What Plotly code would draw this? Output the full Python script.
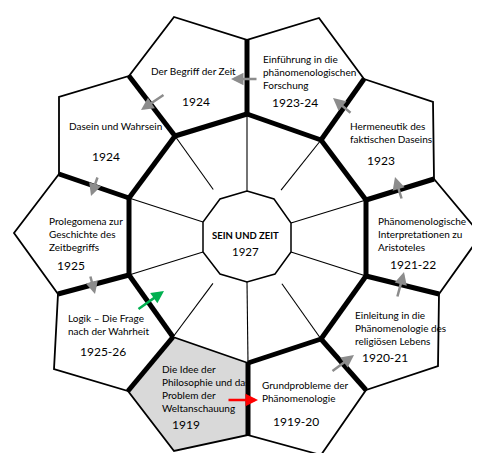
import plotly.graph_objects as go

# ---- content ----
titles = [
    "Einführung in die<br>phänomenologischen<br>Forschung",
    "Hermeneutik des<br>faktischen Daseins",
    "Phänomenologische<br>Interpretationen zu<br>Aristoteles",
    "Einleitung in die<br>Phänomenologie des<br>religiösen Lebens",
    "Grundprobleme der<br>Phänomenologie",
    "Die Idee der<br>Philosophie und das<br>Problem der<br>Weltanschauung",
    "Logik – Die Frage<br>nach der Wahrheit",
    "Prolegomena zur<br>Geschichte des<br>Zeitbegriffs",
    "Dasein und Wahrsein",
    "Der Begriff der Zeit",
]
years = ["1923-24", "1923", "1921-22", "1920-21", "1919-20",
         "1919", "1925-26", "1925", "1924", "1924"]
center_title = "SEIN UND ZEIT"
center_year = "1927"

# ---- geometry (pixel space of the diagram) ----
ring = [(239, 106), (313, 132), (358, 192), (358, 268), (313, 331),
        (240, 355), (165, 329), (121, 267), (121, 190), (167, 128)]
radial_tip = [(239, 32), (356, 71), (426, 171), (431, 286), (358, 382),
              (240, 427), (120, 383), (50, 286), (51, 166), (121, 68)]
apex = [(311, 10), (425, 94), (473, 227), (430, 358), (313, 447),
        (166, 443), (46, 361), (6, 225), (51, 89), (166, 9)]
inner = [(239, 183), (266, 191), (283, 215), (283, 244), (267, 266),
         (239, 274), (212, 266), (195, 244), (195, 214), (212, 191)]
spoke_reach = [1, 0.85, 1, 1, 0.85, 1, 0.85, 1, 1, 0.85]
thin_ring_edges = [5]
highlight_cell = 5

title_pos = [(253, 63.5, "left"), (340, 124, "left"), (368, 226, "left"),
             (345, 319.5, "left"), (252, 383, "left"), (152, 380.5, "left"),
             (58, 316.5, "left"), (39, 226, "left"), (107, 118, "center"),
             (185, 63, "center")]
year_pos = [(287, 94), (373, 152), (405, 256), (377, 349), (288, 413),
            (178, 416), (95, 343), (63, 257), (98, 148), (188, 93)]

# arrows: (tail_x, tail_y, head_x, head_y, color)
arrows = [
    (219, 392, 250, 392, "#ff0000"),
    (323, 364, 346, 347, "#8c8c8c"),
    (389, 290, 396, 264, "#8c8c8c"),
    (394, 192, 387, 169, "#8c8c8c"),
    (344, 106, 325, 90, "#8c8c8c"),
    (250, 71, 223, 71, "#8c8c8c"),
    (157, 86, 133, 102, "#8c8c8c"),
    (90, 168, 83, 188, "#8c8c8c"),
    (82, 267, 87, 286, "#8c8c8c"),
    (129, 302, 156, 283, "#00b050"),
]

fig = go.Figure()
n = len(ring)

# cell fills + outlines
for i in range(n):
    j = (i + 1) % n
    pts = [ring[i], radial_tip[i], apex[i], radial_tip[j], ring[j], ring[i]]
    fig.add_trace(go.Scatter(
        x=[p[0] for p in pts], y=[p[1] for p in pts], mode="lines",
        fill="toself",
        fillcolor="#d9d9d9" if i == highlight_cell else "white",
        line=dict(color="black", width=1.8), hoverinfo="skip"))

# spokes
sx, sy = [], []
for i in range(n):
    r, c, t = ring[i], inner[i], spoke_reach[i]
    sx += [r[0], r[0] + t * (c[0] - r[0]), None]
    sy += [r[1], r[1] + t * (c[1] - r[1]), None]
fig.add_trace(go.Scatter(x=sx, y=sy, mode="lines",
                         line=dict(color="black", width=1.1), hoverinfo="skip"))

# inner decagon
ix = [p[0] for p in inner] + [inner[0][0]]
iy = [p[1] for p in inner] + [inner[0][1]]
fig.add_trace(go.Scatter(x=ix, y=iy, mode="lines", fill="toself",
                         fillcolor="white",
                         line=dict(color="black", width=1.5), hoverinfo="skip"))

# thick edges
tx, ty = [], []
for i in range(n):
    tx += [ring[i][0], radial_tip[i][0], None]
    ty += [ring[i][1], radial_tip[i][1], None]
for i in range(n):
    if i in thin_ring_edges:
        continue
    j = (i + 1) % n
    tx += [ring[i][0], ring[j][0], None]
    ty += [ring[i][1], ring[j][1], None]
fig.add_trace(go.Scatter(x=tx, y=ty, mode="lines",
                         line=dict(color="black", width=5), hoverinfo="skip"))

annotations = []
font_main = "Lato"
for i in range(n):
    x, y, al = title_pos[i]
    annotations.append(dict(
        x=x, y=y, xref="x", yref="y", text=titles[i], showarrow=False,
        xanchor=al, yanchor="middle", align=al,
        font=dict(family=font_main, size=10, color="#000000")))
    yx, yy = year_pos[i]
    annotations.append(dict(
        x=yx, y=yy, xref="x", yref="y", text=years[i], showarrow=False,
        xanchor="center", yanchor="middle",
        font=dict(family=font_main, size=12, color="#000000")))

annotations.append(dict(x=237, y=227, xref="x", yref="y",
                        text="<b>" + center_title + "</b>", showarrow=False,
                        font=dict(family=font_main, size=9.5, color="#000000")))
annotations.append(dict(x=237, y=243, xref="x", yref="y", text=center_year,
                        showarrow=False,
                        font=dict(family=font_main, size=11.5, color="#000000")))

for (x0, y0, x1, y1, col) in arrows:
    annotations.append(dict(
        x=x1, y=y1, ax=x0, ay=y0, xref="x", yref="y", axref="x", ayref="y",
        text="", showarrow=True, arrowhead=2, arrowsize=1, arrowwidth=2.5,
        arrowcolor=col, standoff=0, startstandoff=0))

fig.update_layout(
    width=480, height=453,
    margin=dict(l=0, r=0, t=0, b=0),
    paper_bgcolor="white", plot_bgcolor="white",
    showlegend=False, hovermode=False,
    xaxis=dict(range=[0, 480], visible=False, fixedrange=True),
    yaxis=dict(range=[453, 0], visible=False, fixedrange=True),
    annotations=annotations,
)

fig.write_html("out.html")
